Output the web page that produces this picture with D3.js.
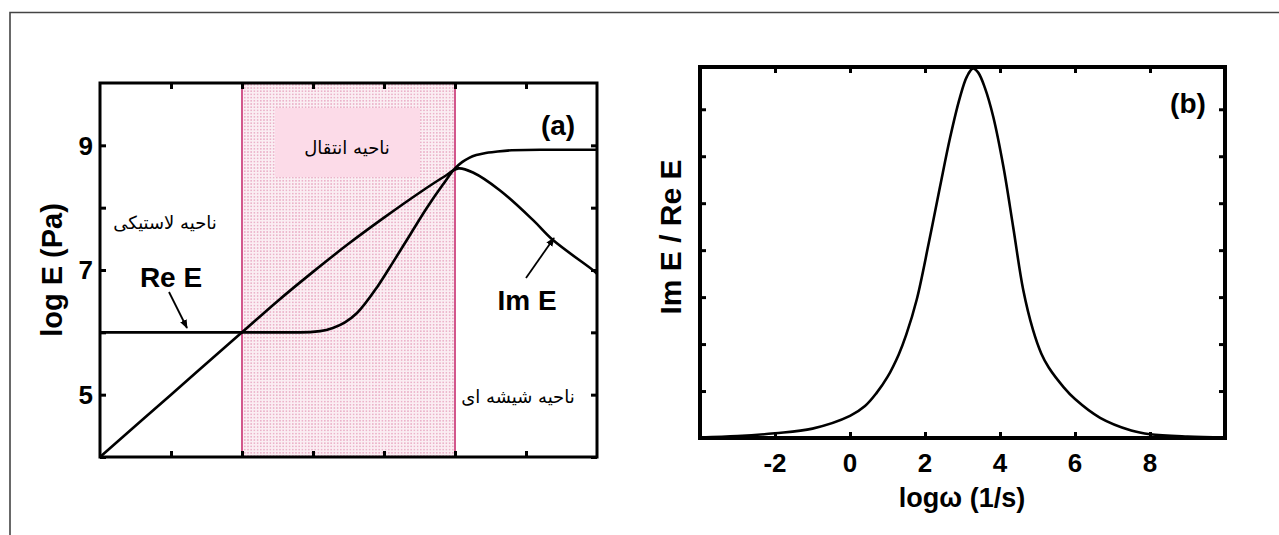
<!DOCTYPE html>
<html><head><meta charset="utf-8">
<script src="https://cdn.jsdelivr.net/npm/d3@7"></script>
<style>
html,body{margin:0;padding:0;background:#fff;}
svg{display:block;}
text{font-family:"Liberation Sans",Arial,sans-serif;}
.fa{font-family:"DejaVu Sans",sans-serif;font-size:18px;}
</style></head>
<body>
<svg id="c" width="1279" height="535"></svg>
<script>
// ---- Panel (a) data ----
const reX = [0,1,2,2.5,2.82,3.1,3.28,3.45,3.62,3.9,4.13,4.37,4.6,4.83,5.0,5.1,5.2,5.3,5.4,5.6,5.8,6.2,7];
const reE = [6,6,6,6,6.0,6.02,6.07,6.16,6.31,6.72,7.13,7.57,7.99,8.37,8.63,8.73,8.8,8.845,8.87,8.9,8.92,8.93,8.93];
const imX = [0,1,2,2.5,3,3.5,4,4.5,4.85,5.05,5.26,5.63,6.1,6.38,6.94,7];
const imE = [4,5,6,6.5,6.97,7.42,7.84,8.24,8.5,8.63,8.56,8.28,7.8,7.48,7.0,6.94];
const aYTicks = [5,7,9];
const aYMinor = [4,5,6,7,8,9];
const aXTicks = [1,2,3,4,5,6];
const regionA = [2,5];
// ---- Panel (b) data ----
const bX = [-4,-3,-2,-1,0,0.4,0.7,1.0,1.3,1.5,1.78,2.1,2.4,2.67,2.93,3.12,3.28,3.42,3.6,3.82,4.09,4.35,4.62,4.88,5.1,5.3,5.7,6,6.67,7.5,8,9,10];
const bY = [0.01,0.04,0.1,0.2,0.47,0.68,0.95,1.3,1.78,2.2,2.95,4.15,5.35,6.4,7.25,7.7,7.87,7.78,7.45,6.84,5.78,4.5,3.15,2.3,1.8,1.5,1.08,0.83,0.43,0.16,0.08,0.03,0.01];
const bXTicks = [-2,0,2,4,6,8];
const bYMinor = [1,2,3,4,5,6,7];

const svg = d3.select("#c");

// outer frame
svg.append("path").attr("d","M10,535 V12.5 H1279").attr("fill","none").attr("stroke","#444").attr("stroke-width",1.6);

const defs = svg.append("defs");
const pat = defs.append("pattern").attr("id","dots").attr("patternUnits","userSpaceOnUse").attr("width",3.2).attr("height",3.2);
pat.append("rect").attr("width",3.2).attr("height",3.2).attr("fill","#fbeef3");
pat.append("circle").attr("cx",1.6).attr("cy",1.6).attr("r",0.75).attr("fill","#e49ab8");
defs.append("marker").attr("id","arr").attr("viewBox","0 0 10 10").attr("refX",9).attr("refY",5)
  .attr("markerWidth",5).attr("markerHeight",5).attr("orient","auto")
  .append("path").attr("d","M0,1 L10,5 L0,9 Z").attr("fill","#000");

// ===== Panel (a) =====
const ax = d3.scaleLinear().domain([0,7]).range([100,597]);
const ay = d3.scaleLinear().domain([4,10]).range([457,83]);
const ga = svg.append("g");

ga.append("rect").attr("x",ax(regionA[0])).attr("y",ay(10)).attr("width",ax(regionA[1])-ax(regionA[0])).attr("height",ay(4)-ay(10)).attr("fill","url(#dots)");
ga.append("rect").attr("x",275).attr("y",108).attr("width",145).attr("height",69).attr("fill","#fcdbe8");
regionA.forEach(v=>ga.append("line").attr("x1",ax(v)).attr("x2",ax(v)).attr("y1",ay(10)).attr("y2",ay(4)).attr("stroke","#d2578c").attr("stroke-width",2));

const lineRe = d3.line().x(d=>ax(d[0])).y(d=>ay(d[1])).curve(d3.curveMonotoneX);
const lineIm = d3.line().x(d=>ax(d[0])).y(d=>ay(d[1])).curve(d3.curveCatmullRom.alpha(0.5));
ga.append("path").datum(reX.map((x,i)=>[x,reE[i]])).attr("d",lineRe).attr("fill","none").attr("stroke","#000").attr("stroke-width",2.6);
ga.append("path").datum(imX.map((x,i)=>[x,imE[i]])).attr("d",lineIm).attr("fill","none").attr("stroke","#000").attr("stroke-width",2.6);

const tA = 6;
ga.append("g").attr("transform",`translate(100,0)`).call(d3.axisLeft(ay).tickValues(aYMinor).tickSize(-tA).tickFormat(""));
ga.append("g").attr("transform",`translate(597,0)`).call(d3.axisRight(ay).tickValues(aYMinor).tickSize(-tA).tickFormat(""));
ga.append("g").attr("transform",`translate(0,457)`).call(d3.axisBottom(ax).tickValues(aXTicks).tickSize(-tA).tickFormat(""));
ga.append("g").attr("transform",`translate(0,83)`).call(d3.axisTop(ax).tickValues(aXTicks).tickSize(-tA).tickFormat(""));
ga.selectAll(".domain").remove();
ga.selectAll(".tick line").attr("stroke","#000").attr("stroke-width",3);
ga.append("rect").attr("x",100).attr("y",83).attr("width",497).attr("height",374).attr("fill","none").attr("stroke","#000").attr("stroke-width",3);

aYTicks.forEach(v=>ga.append("text").attr("x",93).attr("y",ay(v)).attr("dy","0.36em").attr("text-anchor","end")
  .attr("font-size",26).attr("font-weight","bold").text(v));
ga.append("text").attr("transform","translate(52,270) rotate(-90)").attr("text-anchor","middle").attr("dy","0.36em")
  .attr("font-size",29).attr("font-weight","bold").text("log E (Pa)");

ga.append("text").attr("x",558).attr("y",125).attr("dy","0.36em").attr("text-anchor","middle").attr("font-size",28).attr("font-weight","bold").text("(a)");
ga.append("text").attr("x",171).attr("y",277).attr("dy","0.36em").attr("text-anchor","middle").attr("font-size",28).attr("font-weight","bold").text("Re E");
ga.append("text").attr("x",527).attr("y",300).attr("dy","0.36em").attr("text-anchor","middle").attr("font-size",28).attr("font-weight","bold").text("Im E");
ga.append("line").attr("x1",169).attr("y1",292).attr("x2",187).attr("y2",328).attr("stroke","#000").attr("stroke-width",1.8).attr("marker-end","url(#arr)");
ga.append("line").attr("x1",526).attr("y1",278).attr("x2",554).attr("y2",238).attr("stroke","#000").attr("stroke-width",1.8).attr("marker-end","url(#arr)");

ga.append("text").attr("class","fa").attr("x",165).attr("y",223).attr("dy","0.36em").attr("text-anchor","middle").attr("direction","rtl").text("ناحیه لاستیکی");
ga.append("text").attr("class","fa").attr("x",347).attr("y",148).attr("dy","0.36em").attr("text-anchor","middle").attr("direction","rtl").text("ناحیه انتقال");
ga.append("text").attr("class","fa").attr("x",518).attr("y",397).attr("dy","0.36em").attr("text-anchor","middle").attr("direction","rtl").text("ناحیه شیشه ای");

// ===== Panel (b) =====
const bx = d3.scaleLinear().domain([-4,10]).range([700,1225]);
const by = d3.scaleLinear().domain([0,7.9]).range([438,67]);
const gb = svg.append("g");
const lineB = d3.line().x(d=>bx(d[0])).y(d=>by(d[1])).curve(d3.curveCatmullRom.alpha(0.5));
gb.append("path").datum(bX.map((x,i)=>[x,bY[i]])).attr("d",lineB).attr("fill","none").attr("stroke","#000").attr("stroke-width",2.6);

gb.append("g").attr("transform",`translate(700,0)`).call(d3.axisLeft(by).tickValues(bYMinor).tickSize(-tA).tickFormat(""));
gb.append("g").attr("transform",`translate(1225,0)`).call(d3.axisRight(by).tickValues(bYMinor).tickSize(-tA).tickFormat(""));
gb.append("g").attr("transform",`translate(0,438)`).call(d3.axisBottom(bx).tickValues(bXTicks).tickSize(-tA).tickFormat(""));
gb.append("g").attr("transform",`translate(0,67)`).call(d3.axisTop(bx).tickValues(bXTicks).tickSize(-tA).tickFormat(""));
gb.selectAll(".domain").remove();
gb.selectAll(".tick line").attr("stroke","#000").attr("stroke-width",3);
gb.append("rect").attr("x",700).attr("y",67).attr("width",525).attr("height",371).attr("fill","none").attr("stroke","#000").attr("stroke-width",4);

bXTicks.forEach(v=>gb.append("text").attr("x",bx(v)).attr("y",463).attr("dy","0.36em").attr("text-anchor","middle")
  .attr("font-size",26).attr("font-weight","bold").text(v));
gb.append("text").attr("x",962).attr("y",497).attr("dy","0.36em").attr("text-anchor","middle").attr("font-size",27).attr("font-weight","bold").text("logω (1/s)");
gb.append("text").attr("transform","translate(670,237) rotate(-90)").attr("text-anchor","middle").attr("dy","0.36em")
  .attr("font-size",30).attr("font-weight","bold").text("Im E / Re E");
gb.append("text").attr("x",1188).attr("y",103).attr("dy","0.36em").attr("text-anchor","middle").attr("font-size",28).attr("font-weight","bold").text("(b)");
</script>
</body></html>
